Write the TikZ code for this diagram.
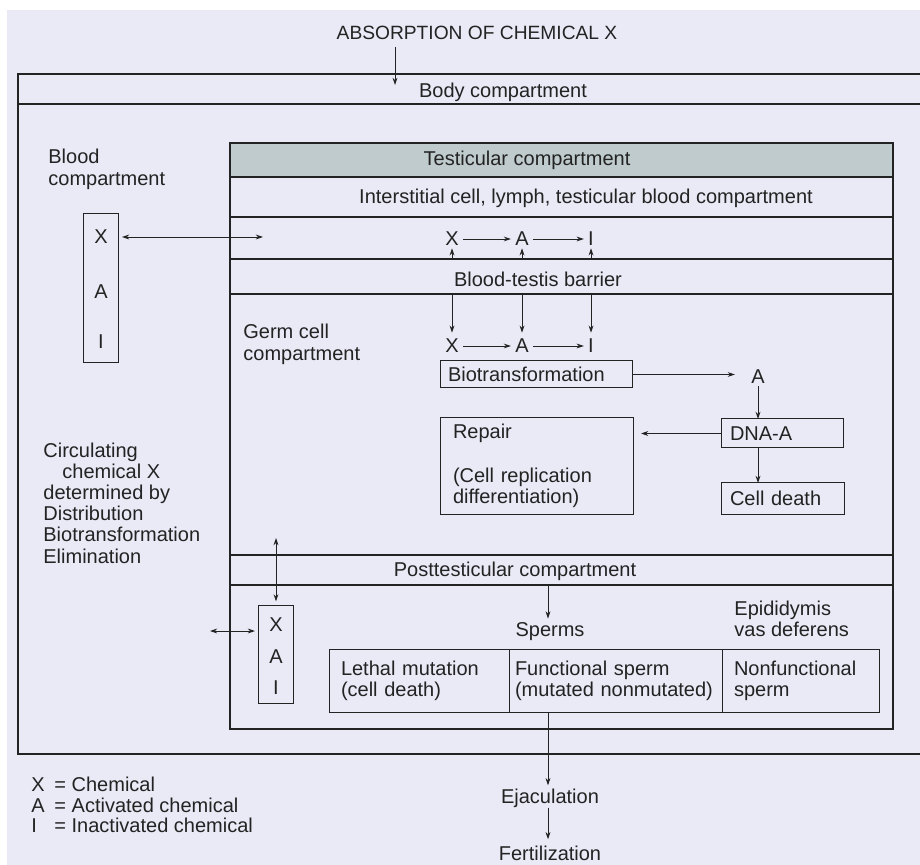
\documentclass[tikz,border=0pt]{standalone}
\usepackage{fontspec}
\setmainfont{Liberation Sans}
\usepackage{xcolor}
\usetikzlibrary{arrows.meta,positioning}
\definecolor{paper}{RGB}{234,233,246}
\definecolor{band}{RGB}{191,203,204}
\definecolor{ink}{RGB}{35,35,35}
\tikzset{
	txt/.style={inner sep=0pt, font=\fontsize{10}{10.6}\selectfont, text=ink},
	letter/.style={txt, inner sep=1pt},
	cell/.style={draw=ink, line width=0.5pt, outer sep=0pt, inner ysep=0pt, inner xsep=4pt, align=left, font=\fontsize{10}{10.6}\selectfont, text=ink},
	arr/.style={draw=ink, line width=0.45pt, -{Stealth[length=3.6pt,width=2.4pt]}},
	dbl/.style={draw=ink, line width=0.45pt, {Stealth[length=3.6pt,width=2.4pt]}-{Stealth[length=3.6pt,width=2.4pt]}},
	chainarr/.style={arr, shorten <=1pt, shorten >=1pt},
	wall/.style={draw=ink, line width=0.95pt},
	thinwall/.style={draw=ink, line width=0.7pt}
}
\newcommand{\legline}[2]{\makebox[11.5pt][l]{#1}=\hspace{2.8pt}#2}

\begin{document}
\begin{tikzpicture}[x=0.5pt, y=-0.5pt]
	% 画布
	\useasboundingbox (0,0) rectangle (920,865);
	\fill[white] (0,0) rectangle (920,865);
	\fill[paper] (7,10) rectangle (920,865);
	% 定义点
	\coordinate (btl) at (18,74);
	\coordinate (bbl) at (18,754);
	\coordinate (ttl) at (230,143);
	\coordinate (tbr) at (893,729);
	\coordinate (entry) at (395,85);
	\coordinate (tin) at (263,237);
	\coordinate (bartop) at (230,259);
	\coordinate (barbot) at (230,294);
	\coordinate (germin) at (276,538);
	\coordinate (outl) at (210,631);
	\coordinate (postbot) at (548,585);
	% 身体
	\draw[wall] (920,74) -- (btl) -- (bbl) -- (920,754);
	\draw[wall] (18,104) -- (920,104);
	% 睾丸
	\fill[band] (ttl) rectangle (893,177);
	\draw[thinwall] (ttl) rectangle (tbr);
	\draw[thinwall] (230,177) -- (893,177);
	\draw[thinwall] (230,217) -- (893,217);
	\draw[thinwall] (bartop) -- (893,259);
	\draw[thinwall] (barbot) -- (893,294);
	\draw[thinwall] (230,555) -- (893,555);
	\draw[thinwall] (230,585) -- (893,585);
	% 标题文字
	\node[txt] (absorb) at (477,33) {\fontsize{9.6}{11}\selectfont ABSORPTION OF CHEMICAL X};
	\node[txt] (bodyt) at (503,92) {Body compartment};
	\node[txt] (testt) at (527,160) {Testicular compartment};
	\node[txt] (intt) at (586,198) {Interstitial cell, lymph, testicular blood compartment};
	\node[txt] (btb) at (538,279) {Blood-testis barrier};
	\node[txt] (postt) at (515,571) {Posttesticular compartment};
	\node[txt, anchor=west, align=left, font=\fontsize{10}{11}\selectfont] (bloodt) at (48,169) {Blood\\compartment};
	\node[txt, anchor=west, align=left, font=\fontsize{10}{11}\selectfont] (germt) at (243,344) {Germ cell\\compartment};
	\node[txt, anchor=west, align=left] (circt) at (43,503) {Circulating\\\hspace*{9.5pt}chemical X\\determined by\\Distribution\\Biotransformation\\Elimination};
	\draw[arr, shorten <=3.5pt] (absorb.south -| entry) -- (entry);
	% 血液
	\node[cell, minimum width=17.5pt, minimum height=74.5pt] (bbox) at (100.5,288.5) {};
	\node[txt] (bx) at (101,237) {X};
	\node[txt] (ba) at (101,292) {A};
	\node[txt] (bi) at (101,342) {I};
	\draw[dbl, shorten <=2pt] (bbox.east |- bx) -- (tin);
	% 上面 X A I
	\node[letter] (ux) at (452,239) {X};
	\node[letter] (ua) at (522,239) {A};
	\node[letter] (ui) at (591,239) {I};
	\draw[chainarr] (ux) -- (ua);
	\draw[chainarr] (ua) -- (ui);
	\draw[arr] (ux |- bartop) -- (ux.south);
	\draw[arr] (ua |- bartop) -- (ua.south);
	\draw[arr] (ui |- bartop) -- (ui.south);
	% 下面 X A I
	\node[letter] (lx) at (452,346) {X};
	\node[letter] (la) at (522,346) {A};
	\node[letter] (li) at (591,346) {I};
	\draw[chainarr] (lx) -- (la);
	\draw[chainarr] (la) -- (li);
	\draw[arr, shorten >=2pt] (ux |- barbot) -- (lx.north);
	\draw[arr, shorten >=2pt] (ua |- barbot) -- (la.north);
	\draw[arr, shorten >=2pt] (ui |- barbot) -- (li.north);
	% 生物转化
	\node[cell, anchor=west, text width=88pt, minimum height=13.5pt] (bio) at (440,374.5) {Biotransformation};
	\node[letter] (aout) at (758,377) {A};
	\draw[arr, shorten >=7pt] (bio.east) -- (aout.west |- bio.east);
	\node[cell, anchor=west, text width=52pt, minimum height=14.5pt, inner xsep=4.5pt] (dna) at (721,433.5) {DNA-A};
	\node[cell, anchor=west, text width=52.5pt, minimum height=15.5pt, inner xsep=4.5pt] (death) at (721,498.5) {Cell death};
	\node[cell, anchor=west, text width=83.5pt, minimum height=48pt, inner xsep=6.5pt] (repair) at (440,466) {Repair\\[11.4pt](Cell replication\\differentiation)};
	\draw[arr] (aout.south) -- (aout |- dna.north);
	\draw[arr] (aout |- dna.south) -- (aout |- death.north);
	\draw[arr, shorten >=4pt] (dna.west) -- (repair.east |- dna.west);
	% 睾丸后
	\node[cell, minimum width=17.5pt, minimum height=49pt] (sbox) at (275.5,654) {};
	\node[txt] (sx) at (276,625) {X};
	\node[txt] (sa) at (276,657) {A};
	\node[txt] (si) at (276,688) {I};
	\draw[dbl, shorten >=1.8pt] (germin) -- (germin |- sbox.north);
	\draw[dbl, shorten >=1.5pt] (outl) -- (outl -| sbox.west);
	\node[txt] (sperms) at (550,632) {Sperms};
	\draw[arr, shorten >=2pt] (postbot) -- (postbot |- sperms.north);
	\node[txt, anchor=west, align=left] (epi) at (734,618.5) {Epididymis\\vas deferens};
	% 精子表格
	\node[cell, anchor=west, text width=78pt, minimum height=31.5pt, inner xsep=6pt] (lethal) at (329,680.5) {Lethal mutation\\(cell death)};
	\node[cell, right=0pt of lethal, text width=100.5pt, minimum height=31.5pt, inner xsep=3pt] (func) {Functional sperm\\(mutated nonmutated)};
	\node[cell, right=0pt of func, text width=66.5pt, minimum height=31.5pt, inner xsep=6pt] (nonf) {Nonfunctional\\sperm};
	% 射精
	\node[txt] (ejac) at (550,798) {Ejaculation};
	\node[txt] (fert) at (550,853) {Fertilization};
	\draw[arr, shorten >=1.5pt] (postbot |- func.south) -- (postbot |- ejac.north);
	\draw[arr, shorten >=3pt] (postbot |- ejac.south) -- (postbot |- fert.north);
	% 图例
	\node[txt, anchor=west] (legx) at (31,784) {\legline{X}{Chemical}};
	\node[txt, anchor=west] (lega) at (31,805) {\legline{A}{Activated chemical}};
	\node[txt, anchor=west] (legi) at (31,825) {\legline{I}{Inactivated chemical}};
\end{tikzpicture}
\end{document}
